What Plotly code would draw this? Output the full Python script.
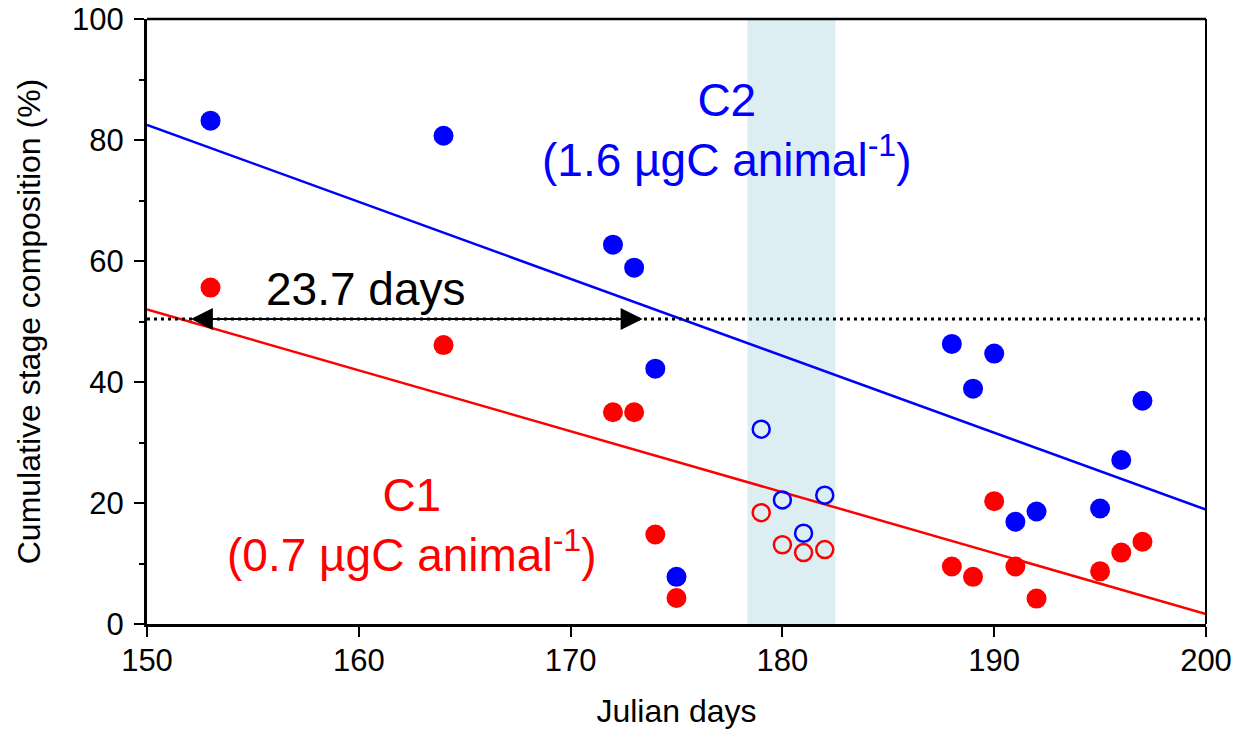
import plotly.graph_objects as go

# ---- data ----
days_filled = [153, 164, 172, 173, 174, 175, 188, 189, 190, 191, 192, 195, 196, 197]
c2_filled = [83.2, 80.7, 62.7, 58.9, 42.2, 7.8, 46.3, 38.9, 44.7, 16.9, 18.6, 19.1, 27.1, 36.9]
c1_filled = [55.6, 46.1, 35.0, 35.0, 14.8, 4.3, 9.5, 7.8, 20.3, 9.5, 4.2, 8.7, 11.8, 13.6]

days_open = [179, 180, 181, 182]
c2_open = [32.2, 20.5, 15.0, 21.3]
c1_open = [18.4, 13.1, 11.8, 12.3]

fit_days = [150, 200]
c2_fit = [82.5, 18.9]
c1_fit = [52.0, 1.65]

band_days = [178.35, 182.5]
half_level = 50.4
arrow_days = [152.0, 173.4]

x_ticks = [150, 160, 170, 180, 190, 200]
y_ticks = [0, 20, 40, 60, 80, 100]
y_minor = [10, 30, 50, 70, 90]

FONT = "Liberation Sans, Arial, sans-serif"
BLUE = "#0000ff"
RED = "#ff0000"

fig = go.Figure()

# regression lines
fig.add_trace(go.Scatter(x=fit_days, y=c2_fit, mode="lines",
                         line=dict(color=BLUE, width=2.5), showlegend=False))
fig.add_trace(go.Scatter(x=fit_days, y=c1_fit, mode="lines",
                         line=dict(color=RED, width=2.5), showlegend=False))

# 50% dotted line
fig.add_trace(go.Scatter(x=fit_days, y=[half_level, half_level], mode="lines",
                         line=dict(color="black", width=3, dash="3px,4px"), showlegend=False))

# points
fig.add_trace(go.Scatter(x=days_filled, y=c2_filled, mode="markers",
                         marker=dict(color=BLUE, size=20, line=dict(width=0)), showlegend=False))
fig.add_trace(go.Scatter(x=days_filled, y=c1_filled, mode="markers",
                         marker=dict(color=RED, size=20, line=dict(width=0)), showlegend=False))
fig.add_trace(go.Scatter(x=days_open, y=c2_open, mode="markers",
                         marker=dict(symbol="circle-open", color=BLUE, size=17,
                                     line=dict(width=2.5, color=BLUE)), showlegend=False))
fig.add_trace(go.Scatter(x=days_open, y=c1_open, mode="markers",
                         marker=dict(symbol="circle-open", color=RED, size=17,
                                     line=dict(width=2.5, color=RED)), showlegend=False))

# shaded band
fig.add_shape(type="rect", xref="x", yref="paper", x0=band_days[0], x1=band_days[1],
              y0=0, y1=1, fillcolor="#dceef2", line=dict(width=0), layer="below")

# thinner top / right frame lines
fig.add_shape(type="line", xref="paper", yref="paper", x0=0, x1=1, y0=1, y1=1,
              line=dict(color="black", width=2.5))
fig.add_shape(type="line", xref="paper", yref="paper", x0=1, x1=1, y0=0, y1=1,
              line=dict(color="black", width=2))

# double arrow
fig.add_annotation(x=arrow_days[1], y=half_level, ax=arrow_days[0], ay=half_level,
                   xref="x", yref="y", axref="x", ayref="y", text="",
                   showarrow=True, arrowhead=2, arrowside="end+start",
                   arrowsize=2.2, arrowwidth=2, arrowcolor="black")

fig.add_annotation(x=160.3, y=55.3, text="23.7 days", showarrow=False,
                   font=dict(family=FONT, size=46, color="black"))
fig.add_annotation(x=177.4, y=81.7, text="C2<br>(1.6 µgC animal<sup>-1</sup>)",
                   showarrow=False, font=dict(family=FONT, size=46, color=BLUE))
fig.add_annotation(x=162.5, y=16.4, text="C1<br>(0.7 µgC animal<sup>-1</sup>)",
                   showarrow=False, font=dict(family=FONT, size=46, color=RED))

fig.update_layout(
    template="none",
    width=1234, height=729,
    margin=dict(l=147, r=28, t=19, b=105, pad=0),
    paper_bgcolor="white", plot_bgcolor="white",
    font=dict(family=FONT, size=30, color="black"),
    showlegend=False,
)
fig.update_xaxes(range=[150, 200], tickvals=x_ticks, showgrid=False, zeroline=False,
                 automargin=False,
                 showline=True, linecolor="black", linewidth=3, mirror=False,
                 ticks="outside", ticklen=10, tickwidth=2, tickcolor="black",
                 tickfont=dict(family=FONT, size=31), ticklabelstandoff=-3,
                 title=dict(text="Julian days", font=dict(family=FONT, size=32), standoff=24))
fig.update_yaxes(range=[0, 100], tickvals=y_ticks, showgrid=False, zeroline=False,
                 automargin=False,
                 showline=True, linecolor="black", linewidth=3, mirror=False,
                 ticks="outside", ticklen=10, tickwidth=2, tickcolor="black",
                 tickfont=dict(family=FONT, size=31), ticklabelstandoff=4,
                 minor=dict(tickvals=y_minor, ticks="outside", ticklen=5,
                            tickwidth=2, tickcolor="black"),
                 title=dict(text="Cumulative stage composition (%)",
                            font=dict(family=FONT, size=32), standoff=22))

fig.write_html("out.html", config={"displayModeBar": False},
               post_script="document.body.style.margin='0';")
